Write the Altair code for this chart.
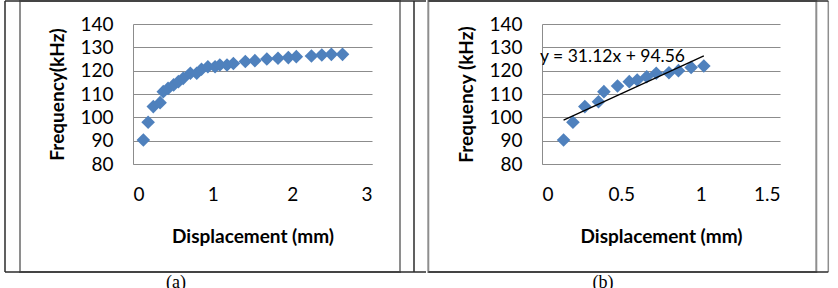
import altair as alt
import pandas as pd

# ---------------- data ----------------
disp_a = [0.13, 0.19, 0.255, 0.34, 0.38, 0.44, 0.51, 0.57, 0.63, 0.72, 0.80, 0.86, 0.94,
          1.03, 1.09, 1.18, 1.26, 1.41, 1.53, 1.68, 1.82, 1.95, 2.05, 2.24, 2.37, 2.49, 2.63]
freq_a = [90.3, 97.9, 104.6, 106.3, 111.0, 112.4, 113.9, 115.3, 116.7, 118.9, 118.9, 120.6, 121.7,
          121.7, 122.4, 122.4, 123.1, 123.9, 124.3, 125.0, 125.3, 125.6, 126.0, 126.3, 126.7, 127.0, 127.0]

disp_b = [0.136, 0.195, 0.27, 0.356, 0.39, 0.476, 0.55, 0.60, 0.66, 0.72, 0.80, 0.86, 0.94, 1.02]
freq_b = [90.3, 97.9, 104.6, 106.7, 111.0, 113.4, 115.3, 116.0, 117.4, 118.9, 119.1, 120.0, 121.4, 122.0]

SLOPE = 31.12
INTERCEPT = 94.56
EQUATION = "y = 31.12x + 94.56"
EQ_Y = 125.7

y_ticks = [80, 90, 100, 110, 120, 130, 140]
x_ticks_a = [0, 1, 2, 3]
x_ticks_b = [0, 0.5, 1, 1.5]
panel_labels = ["(a)", "(b)"]
y_titles = ["Frequency(kHz)", "Frequency (kHz)"]
x_title = "Displacement (mm)"

BLUE = "#4F81BD"
GRID = "#8C8C8C"
FRAME = "#8E8E8E"
DARK = "#2B2B2B"
FONT = "Lato"
LABEL_SIZE = 19

df_a = pd.DataFrame({"x": disp_a, "y": freq_a})
df_b = pd.DataFrame({"x": disp_b, "y": freq_b})
trend = pd.DataFrame({"x": [min(disp_b), max(disp_b)]})
trend["y"] = SLOPE * trend["x"] + INTERCEPT
eq_df = pd.DataFrame({"x": [0.0], "y": [EQ_Y], "t": [EQUATION]})

one = alt.Data(values=[{"k": 1}])


def axes(xvals, ytitle, W, H):
    xaxis = alt.Axis(values=xvals, format="~g", grid=False, ticks=False, domainColor=GRID,
                     domainWidth=1, labelPadding=21, labelFontSize=LABEL_SIZE, labelFont=FONT,
                     labelColor="black", labelOverlap=False, title=x_title, titleFont=FONT,
                     titleFontSize=19, titleFontWeight="bold", titleColor="black",
                     titleX=W / 2, titleY=72, titleBaseline="middle", titleAlign="center")
    yaxis = alt.Axis(values=y_ticks, grid=True, gridColor=GRID, gridWidth=1, ticks=False,
                     domainColor=GRID, domainWidth=1, labelPadding=20,
                     labelFontSize=LABEL_SIZE, labelFont=FONT, labelColor="black",
                     labelOverlap=False, title=ytitle, titleFont=FONT,
                     titleFontSize=19, titleFontWeight="bold", titleColor="black",
                     titleX=-76, titleY=H / 2, titleBaseline="middle", titleAlign="center",
                     titleAngle=270)
    return xaxis, yaxis


def make_panel(df, xdom, xvals, ytitle, W, H, geo, label, with_trend=False):
    xs = alt.Scale(domain=xdom, nice=False, zero=False)
    ys = alt.Scale(domain=[80, 140], nice=False, zero=False)
    xaxis, yaxis = axes(xvals, ytitle, W, H)
    X = lambda: alt.X("x:Q", scale=xs, axis=xaxis)
    Y = lambda: alt.Y("y:Q", scale=ys, axis=yaxis)
    pts = alt.Chart(df).mark_point(shape="diamond", filled=True, size=185, color=BLUE,
                                   opacity=1).encode(x=X(), y=Y())
    fl, fr, ft, fb = geo["frame"]
    frame = alt.Chart(one).mark_rect(fillOpacity=0, stroke=FRAME, strokeWidth=2).encode(
        x=alt.value(fl), x2=alt.value(fr), y=alt.value(ft), y2=alt.value(fb))
    rules = []
    for (x1, x2, y1, y2, c) in geo["rules"]:
        rules.append(alt.Chart(one).mark_rule(color=c, strokeWidth=1.5).encode(
            x=alt.value(x1), x2=alt.value(x2), y=alt.value(y1), y2=alt.value(y2)))
    lab = alt.Chart(one).mark_text(font="Liberation Serif", fontSize=18, baseline="middle",
                                   align="center", color="black").encode(
        x=alt.value(geo["label"][0]), y=alt.value(geo["label"][1]), text=alt.value(label))
    layers = [frame] + rules + [pts]
    if with_trend:
        layers.append(alt.Chart(trend).mark_line(color="black", strokeWidth=1.3).encode(
            x=X(), y=Y()))
        layers.append(alt.Chart(eq_df).mark_text(font=FONT, fontSize=17.5, align="left",
                                                 baseline="middle", dx=-2,
                                                 color="black").encode(
            x=X(), y=Y(), text="t:N"))
    layers.append(lab)
    return alt.layer(*layers).properties(width=W, height=H)


Wa, Wb, H = 239, 238, 140

geo_a = {
    "frame": (-113, 267, -23, 248),
    "rules": [
        (-128, -128, -23, 248, DARK),
        (281, 281, -23, 248, DARK),
        (-128, 293, -23, -23, DARK),
        (-128, 293, 248, 248, DARK),
    ],
    "label": (43, 259),
}
geo_b = {
    "frame": (-113.7, 274.3, -23, 248),
    "rules": [
        (286.3, 286.3, -23, 248, FRAME),
        (-113.7, 286.3, -23, -23, DARK),
        (-113.7, 286.3, 248, 248, DARK),
    ],
    "label": (61, 259),
}

pa = make_panel(df_a, [0, 3], x_ticks_a, y_titles[0], Wa, H, geo_a, panel_labels[0])
pb = make_panel(df_b, [0, 1.5], x_ticks_b, y_titles[1], Wb, H, geo_b, panel_labels[1],
                with_trend=True)

chart = alt.hconcat(pa, pb, spacing=0).properties(
    padding={"left": 4, "top": 0, "right": 0, "bottom": 0},
    background="white",
).configure_view(strokeWidth=0)

chart.save("out.html", embed_options={"renderer": "svg", "actions": False})
